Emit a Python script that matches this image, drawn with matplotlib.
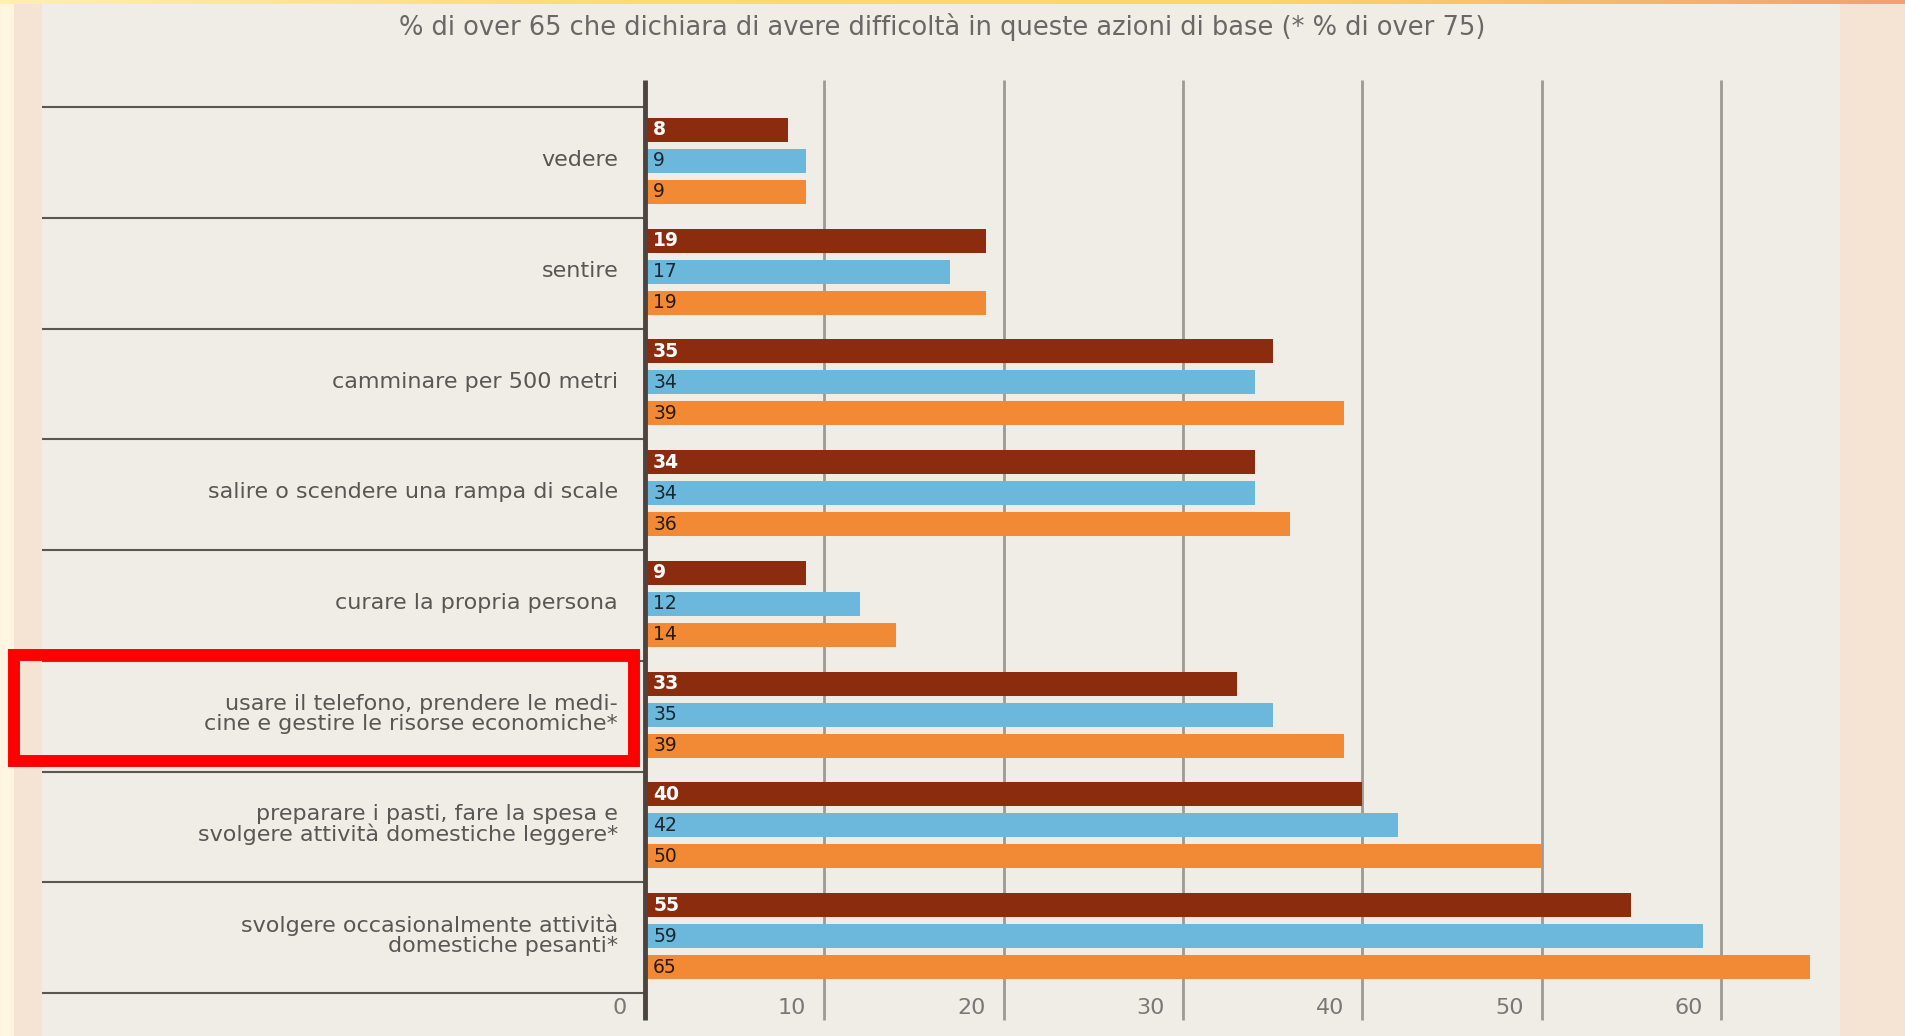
import matplotlib.pyplot as plt
import numpy as np
from matplotlib.patches import Rectangle
from matplotlib.colors import LinearSegmentedColormap

# Data
categories = [
    'vedere',
    'sentire',
    'camminare per 500 metri',
    'salire o scendere una rampa di scale',
    'curare la propria persona',
    'usare il telefono, prendere le medi-\ncine e gestire le risorse economiche*',
    'preparare i pasti, fare la spesa e\nsvolgere attività domestiche leggere*',
    'svolgere occasionalmente attività\ndomestiche pesanti*',
]
series_dark = [8, 19, 35, 34, 9, 33, 40, 55]
series_blue = [9, 17, 34, 34, 12, 35, 42, 59]
series_orange = [9, 19, 39, 36, 14, 39, 50, 65]
xticks = [0, 10, 20, 30, 40, 50, 60]
title = '% di over 65 che dichiara di avere difficoltà in queste azioni di base (* % di over 75)'
highlight = 5

colors = ['#8B2C0F', '#6CB7DC', '#F28A35']
text_colors = ['white', '#1c2830', '#2a1a10']

W, H = 1905, 1036
fig = plt.figure(figsize=(W / 100, H / 100), dpi=100)
fig.patch.set_facecolor('#F5E4D4')

# left pale strip and top gradient strip
fig.add_artist(Rectangle((0, 0), 14 / W, 1, transform=fig.transFigure,
                         color='#FFF5E0', lw=0, zorder=0))
grad_ax = fig.add_axes([0, 1 - 4 / H, 1, 4 / H])
cmap = LinearSegmentedColormap.from_list('g', ['#FFEFB0', '#FFD970', '#FFD46A', '#F2A070'])
grad_ax.imshow(np.linspace(0, 1, 200).reshape(1, -1), aspect='auto', cmap=cmap)
grad_ax.axis('off')

# main panel: x=42..1840 px, zero at 645 px, 10 units = 179.3 px
px_per_unit = 17.93
x_left = -(645 - 42) / px_per_unit
x_right = (1840 - 645) / px_per_unit
unit_y = 110.75
y_top = -0.5 - (107 - 4) / unit_y
y_bot = 7.5 + (1036 - 993) / unit_y

ax = fig.add_axes([42 / W, 0, (1840 - 42) / W, 1 - 4 / H])
ax.set_facecolor('#F0EDE6')
ax.set_xlim(x_left, x_right)
ax.set_ylim(y_bot, y_top)
for s in ax.spines.values():
    s.set_visible(False)
ax.set_xticks([])
ax.set_yticks([])

n = len(categories)
y = np.arange(n)
shift = -1.5 / unit_y
step = 31 / unit_y
bar_h = 24 / unit_y

# gridlines
ext = 27 / unit_y
for t in xticks[1:]:
    ax.vlines(t, -0.5 - ext, n - 0.5 + ext, color='#9c9a96', lw=2, zorder=1)
ax.vlines(0, -0.5 - ext, n - 0.5 + ext, color='#4d4440', lw=3.5, zorder=4)

# separators on the left
for b in np.arange(n + 1) - 0.5:
    ax.hlines(b, x_left, 0, color='#5a5654', lw=1.5, zorder=2)

for k, (vals, c, tc) in enumerate(zip([series_dark, series_blue, series_orange], colors, text_colors)):
    ypos = y + shift + (k - 1) * step
    ax.barh(ypos, vals, height=bar_h, color=c, zorder=3)
    for yy, v in zip(ypos, vals):
        ax.text(0.45, yy, str(v), color=tc, fontsize=13.5,
                fontweight='bold' if k == 0 else 'normal',
                ha='left', va='center', zorder=5)

for yy, lab in zip(y, categories):
    ax.text(-1.5, yy - 0.02, lab, ha='right', va='center', color='#5a5654',
            fontsize=16, linespacing=1.0, zorder=5)

for t in xticks:
    ax.text(t - 1.0, n - 0.5 + 15 / unit_y, str(t), ha='right', va='center',
            color='#7a7876', fontsize=16, zorder=5)

ax.text(942 / px_per_unit - 645 / px_per_unit, y_top + 23 / unit_y, title,
        ha='center', va='center', color='#6a6866', fontsize=18.5, zorder=5)

# red highlight box around one category label
ax.add_patch(Rectangle(((14 - 645) / px_per_unit, highlight - 0.5 - 6 / unit_y),
                       (634 - 14) / px_per_unit, 106 / unit_y,
                       fill=False, ec='#FF0000', lw=8.6, clip_on=False, zorder=6))

fig.savefig('out.png', dpi=100, facecolor=fig.get_facecolor())
